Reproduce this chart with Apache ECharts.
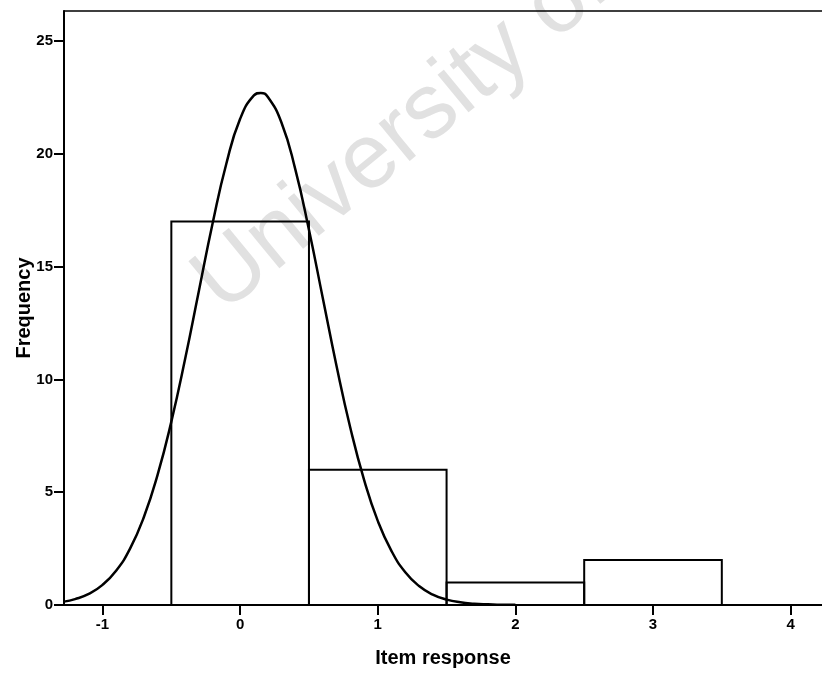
<!DOCTYPE html>
<html>
<head>
<meta charset="utf-8">
<style>
  html, body { margin: 0; padding: 0; background: #ffffff; }
  #chart { width: 822px; height: 673px; }
</style>
<script src="https://cdn.jsdelivr.net/npm/echarts@6/dist/echarts.min.js"></script>
</head>
<body>
<div id="chart"></div>
<script>
// Histogram bins of item responses
const binStart = [-0.5, 0.5, 1.5, 2.5];
const binEnd   = [0.5, 1.5, 2.5, 3.5];
const binCount = [17, 6, 1, 2];

// Fitted normal curve, sampled along the response axis
const curveX = [-1.28, -1.2, -1.1, -1.0, -0.9, -0.8, -0.7, -0.6, -0.5, -0.4, -0.3, -0.2, -0.1,
                0.0, 0.1, 0.15, 0.2, 0.3, 0.4, 0.5, 0.6, 0.7, 0.8, 0.9, 1.0, 1.1, 1.2, 1.3, 1.4,
                1.5, 1.6, 1.7, 1.8, 1.9, 2.0];
const curveY = [0.15, 0.26, 0.49, 0.89, 1.53, 2.50, 3.89, 5.77, 8.13, 10.90, 13.92, 16.92, 19.57,
                21.55, 22.59, 22.70, 22.53, 21.39, 19.33, 16.63, 13.62, 10.61, 7.87, 5.56, 3.73, 2.39, 1.45, 0.84, 0.46,
                0.24, 0.12, 0.06, 0.03, 0.01, 0.01];

// Axis ticks
const xTicks = [-1, 0, 1, 2, 3, 4];
const yTicks = [0, 5, 10, 15, 20, 25];

const chart = echarts.init(document.getElementById('chart'), null, { renderer: 'canvas' });

const barData = binStart.map((s, i) => [s, binEnd[i], binCount[i]]);
const curveData = curveX.map((x, i) => [x, curveY[i]]);

const FONT = '"Liberation Sans", Arial, sans-serif';

chart.setOption({
  animation: false,
  backgroundColor: '#ffffff',
  grid: { left: 64, top: 11, right: 0, bottom: 66 },
  graphic: [{
    type: 'text',
    z: -10,
    x: 207,
    y: 295,
    rotation: 39.5 * Math.PI / 180,
    style: {
      text: 'University of Cape Town',
      font: '92px "Liberation Sans", Arial, sans-serif',
      fill: '#e1e1e1',
      align: 'left',
      verticalAlign: 'middle'
    }
  }],
  xAxis: [{
    type: 'value',
    min: -1.28,
    max: 4.228,
    splitLine: { show: false },
    axisLine: { show: true, onZero: false, lineStyle: { color: '#000', width: 2 } },
    axisTick: { show: true, customValues: xTicks, length: 10, lineStyle: { color: '#000', width: 2 } },
    axisLabel: { customValues: xTicks, color: '#000', fontFamily: FONT, fontSize: 15, fontWeight: 'bold', margin: 12 },
    name: 'Item response',
    nameLocation: 'middle',
    nameGap: 43,
    nameMoveOverlap: false,
    nameTextStyle: { color: '#000', fontFamily: FONT, fontSize: 20, fontWeight: 'bold' }
  }, {
    type: 'value',
    position: 'top',
    min: -1.28,
    max: 4.228,
    splitLine: { show: false },
    axisLine: { show: true, onZero: false, lineStyle: { color: '#000', width: 1.5 } },
    axisTick: { show: false },
    axisLabel: { show: false }
  }],
  yAxis: {
    type: 'value',
    min: 0,
    max: 26.33,
    splitLine: { show: false },
    axisLine: { show: true, onZero: false, lineStyle: { color: '#000', width: 2 } },
    axisTick: { show: true, customValues: yTicks, length: 10, lineStyle: { color: '#000', width: 2 } },
    axisLabel: { customValues: yTicks, color: '#000', fontFamily: FONT, fontSize: 15, fontWeight: 'bold', margin: 11 },
    name: 'Frequency',
    nameLocation: 'middle',
    nameGap: 30,
    nameMoveOverlap: false,
    nameRotate: 90,
    nameTextStyle: { color: '#000', fontFamily: FONT, fontSize: 20, fontWeight: 'bold' }
  },
  series: [{
    type: 'custom',
    xAxisIndex: 0,
    yAxisIndex: 0,
    data: barData,
    encode: { x: [0, 1], y: 2 },
    renderItem: function (params, api) {
      const p0 = api.coord([api.value(0), 0]);
      const p1 = api.coord([api.value(1), api.value(2)]);
      return {
        type: 'rect',
        shape: { x: p0[0], y: p1[1], width: p1[0] - p0[0], height: p0[1] - p1[1] },
        style: { fill: 'transparent', stroke: '#000', lineWidth: 2 }
      };
    },
    z: 2
  }, {
    type: 'line',
    xAxisIndex: 0,
    yAxisIndex: 0,
    data: curveData,
    smooth: 0.5,
    showSymbol: false,
    symbol: 'none',
    lineStyle: { color: '#000', width: 2.5 },
    z: 3
  }]
});
</script>
</body>
</html>
